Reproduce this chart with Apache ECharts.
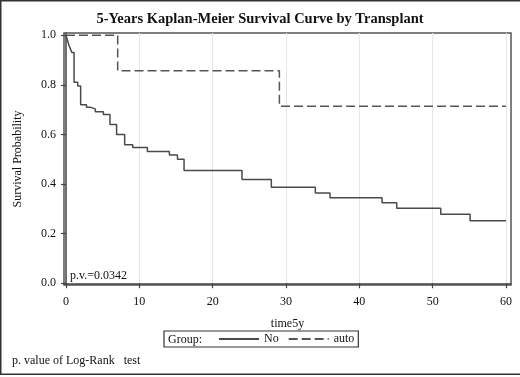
<!DOCTYPE html>
<html><head><meta charset="utf-8">
<script src="https://cdn.jsdelivr.net/npm/echarts@6/dist/echarts.min.js"></script>
<style>html,body{margin:0;padding:0;background:#fff}#c{width:520px;height:377px}</style>
</head><body><div id="c"></div>
<script>
var title = '5-Years Kaplan-Meier Survival Curve by Transplant';
var xTicks = [0, 10, 20, 30, 40, 50, 60];
var yTicks = [0.0, 0.2, 0.4, 0.6, 0.8, 1.0];
// Group "No": time5y, survival probability (step after time)
var noTime = [0, 0.2, 0.4, 0.6, 0.8, 1.1, 1.6, 2.0, 2.8, 3.3, 4.0, 5.1, 6.0, 6.9, 8.0, 9.1, 11.1, 14.1, 15.2, 16.1, 24.0, 28.0, 34.0, 36.0, 43.1, 45.1, 51.1, 55.1, 60];
var noSurv = [1.0, 0.98, 0.96, 0.945, 0.93, 0.81, 0.795, 0.72, 0.71, 0.703, 0.692, 0.68, 0.64, 0.60, 0.558, 0.547, 0.531, 0.517, 0.50, 0.455, 0.418, 0.387, 0.364, 0.345, 0.325, 0.302, 0.278, 0.252, 0.252];
// Group "auto"
var autoTime = [0, 7.05, 29.1, 60];
var autoSurv = [1.0, 0.857, 0.714, 0.714];

function pairs(a, b) { return a.map(function (v, i) { return [v, b[i]]; }); }
var serif = '"Liberation Serif","DejaVu Serif",serif';
var ink = '#444';
var txt = '#111';

var chart = echarts.init(document.getElementById('c'));
chart.setOption({
  animation: false,
  backgroundColor: '#fff',
  title: {
    text: title, left: 'center', top: 7,
    textStyle: { fontFamily: serif, fontSize: 14.5, fontWeight: 'bold', color: txt }
  },
  grid: { left: 64, right: 9, top: 33, bottom: 92, show: true, borderColor: '#555', borderWidth: 1.5, backgroundColor: 'transparent' },
  xAxis: {
    type: 'value', min: -0.27, max: 60.68,
    name: 'time5y', nameLocation: 'middle', nameGap: 33,
    nameTextStyle: { fontFamily: serif, fontSize: 12, color: txt },
    axisLine: { show: true, lineStyle: { color: ink, width: 1.5 } },
    axisTick: { show: true, length: 5, customValues: xTicks, lineStyle: { color: ink, width: 1.2 } },
    axisLabel: { customValues: xTicks, fontFamily: serif, fontSize: 12, color: txt, margin: 11 },
    splitLine: { show: true, lineStyle: { color: '#e6e6e6', width: 1 } }
  },
  yAxis: {
    type: 'value', min: -0.007, max: 1.009,
    name: 'Survival Probability', nameLocation: 'middle', nameGap: 40, nameRotate: 90,
    nameTextStyle: { fontFamily: serif, fontSize: 12, color: txt },
    axisLine: { show: true, lineStyle: { color: ink, width: 1.5 } },
    axisTick: { show: true, length: 5, customValues: yTicks, lineStyle: { color: ink, width: 1.2 } },
    axisLabel: { customValues: yTicks, fontFamily: serif, fontSize: 12, color: txt, margin: 8,
      formatter: function (v) { return v.toFixed(1); } },
    splitLine: { show: false }
  },
  legend: {
    left: 164, top: 331, orient: 'horizontal',
    borderColor: '#333', borderWidth: 1.2, borderRadius: 0,
    padding: [2, 4, 2, 54], itemGap: 9, itemWidth: 40, itemHeight: 12,
    itemStyle: { opacity: 0 },
    textStyle: { fontFamily: serif, fontSize: 12, color: txt },
    data: ['No', 'auto']
  },
  series: [
    {
      name: 'No', type: 'line', step: 'end', symbol: 'none',
      data: pairs(noTime, noSurv),
      lineStyle: { color: '#4a4a4a', width: 1.5 }, itemStyle: { color: '#4a4a4a' }
    },
    {
      name: 'auto', type: 'line', step: 'end', symbol: 'none',
      data: pairs(autoTime, autoSurv),
      lineStyle: { color: '#555', width: 1.5, type: [9, 4] }, itemStyle: { color: '#555' }
    }
  ],
  graphic: [
    { type: 'rect', silent: true, shape: { x: 0.75, y: 0.75, width: 530, height: 373.5 },
      style: { fill: 'none', stroke: '#333', lineWidth: 1.5 } },
    { type: 'text', left: 168, top: 334, style: { text: 'Group:', font: '12px ' + serif, fill: txt } },
    { type: 'text', left: 70, top: 270, style: { text: 'p.v.=0.0342', font: '12px ' + serif, fill: txt } },
    { type: 'text', left: 12, top: 355, style: { text: 'p. value of Log-Rank   test', font: '12px ' + serif, fill: txt } }
  ]
});
</script></body></html>
